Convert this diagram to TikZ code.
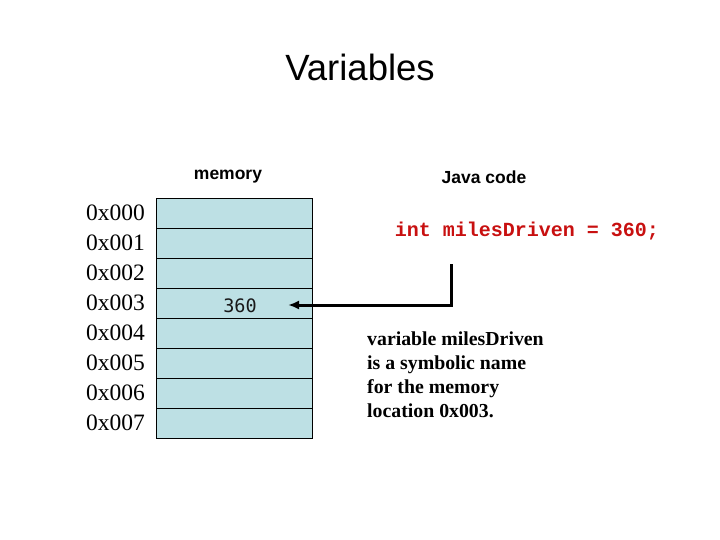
\documentclass[tikz,border=0pt]{standalone}
\usepackage{fontspec}
\setmainfont{Liberation Serif}
\newfontfamily\arialf{Liberation Sans}
\newfontfamily\courf{Liberation Mono}
\newfontfamily\dvmono{DejaVu Sans Mono}
\usetikzlibrary{arrows.meta}
\definecolor{cellblue}{RGB}{189,224,228}
\definecolor{codered}{RGB}{200,16,16}
\tikzset{
  cell/.style={draw=black, line width=0.8pt, fill=cellblue, minimum width=156pt, minimum height=30pt, inner sep=0pt, outer sep=0pt},
  addr/.style={anchor=west, inner sep=0pt, font=\fontsize{23.5}{24}\selectfont},
  hdr/.style={inner sep=0pt, font=\arialf\bfseries\fontsize{17.5}{18}\selectfont},
  conn/.style={line width=3pt, -{Latex[length=11pt,width=9pt]}},
}
\begin{document}
\begin{tikzpicture}[x=1pt,y=-1pt]
\useasboundingbox (0,0) rectangle (720,540);
\node[inner sep=0pt, font=\arialf\fontsize{36.5}{40}\selectfont] (title) at (360,67) {Variables};
\node[hdr] (memh) at (228,177) {memory};
\node[hdr] (javah) at (484,177) {Java code};
\foreach \i in {0,...,7} {
  \node[cell] (cell\i) at (234,213+30*\i) {};
  \node[addr] (addr\i) at (86,213+30*\i) {0x00\i};
}
\node[inner sep=0pt, font=\dvmono\fontsize{18.5}{18}\selectfont, text=black!90] (val) at (240,306) {360};
\node[inner sep=0pt, font=\courf\bfseries\fontsize{20}{22}\selectfont, text=codered] (code) at (527,231) {int milesDriven = 360;};
\coordinate (src) at (451,264);
\draw[conn] (src) |- ([xshift=-24pt,yshift=-2pt]cell3.east);
\node[anchor=north west, inner sep=0pt, align=left, font=\bfseries\fontsize{19.8}{24}\selectfont] (note) at (367,332) {variable milesDriven\\is a symbolic name\\for the memory\\location 0x003.};
\end{tikzpicture}
\end{document}
